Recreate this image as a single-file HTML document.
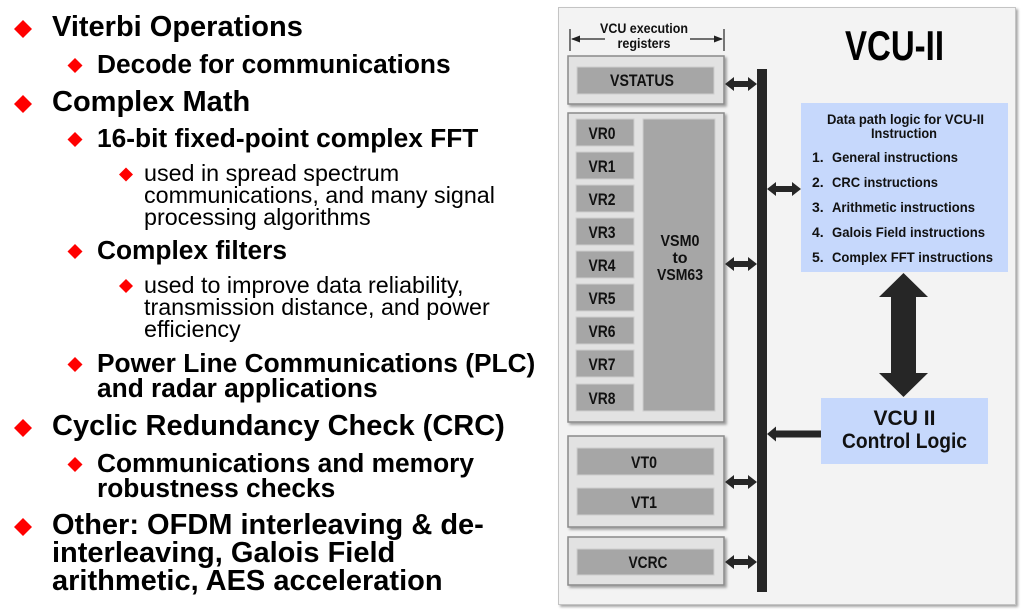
<!DOCTYPE html>
<html><head><meta charset="utf-8"><style>
html,body{margin:0;padding:0;background:#fff;}
svg{display:block;}
</style></head><body>
<svg width="1024" height="616" viewBox="0 0 1024 616" xmlns="http://www.w3.org/2000/svg" font-family="Liberation Sans, Arial, sans-serif">
<defs>
<filter id="sh" x="-10%" y="-10%" width="130%" height="130%">
<feDropShadow dx="2" dy="2" stdDeviation="1.2" flood-color="#000" flood-opacity="0.35"/>
</filter>
</defs>
<rect width="1024" height="616" fill="#fff"/>

<!-- Left bullets -->
<g fill="#ff0000">
<polygon points="23,20 32,29 23,38 14,29"/>
<polygon points="23,95 32,104 23,113 14,104"/>
<polygon points="23,419 32,428 23,437 14,428"/>
<polygon points="23,518 32,527 23,536 14,527"/>
<polygon points="75,58 82.5,65.5 75,73 67.5,65.5"/>
<polygon points="75,132 82.5,139.5 75,147 67.5,139.5"/>
<polygon points="75,244 82.5,251.5 75,259 67.5,251.5"/>
<polygon points="75,357 82.5,364.5 75,372 67.5,364.5"/>
<polygon points="75,457 82.5,464.5 75,472 67.5,464.5"/>
<polygon points="126,167.5 133,174.5 126,181.5 119,174.5"/>
<polygon points="126,279 133,286 126,293 119,286"/>
</g>
<g fill="#000" font-weight="bold" font-size="29">
<text x="52" y="36">Viterbi Operations</text>
<text x="52" y="111">Complex Math</text>
<text x="52" y="435">Cyclic Redundancy Check (CRC)</text>
<text x="52" y="534">Other: OFDM interleaving &amp; de-</text>
<text x="52" y="562">interleaving, Galois Field</text>
<text x="52" y="590">arithmetic, AES acceleration</text>
</g>
<g fill="#000" font-weight="bold" font-size="26.3">
<text x="97" y="73">Decode for communications</text>
<text x="97" y="147">16-bit fixed-point complex FFT</text>
<text x="97" y="259">Complex filters</text>
<text x="97" y="372">Power Line Communications (PLC)</text>
<text x="97" y="397">and radar applications</text>
<text x="97" y="472">Communications and memory</text>
<text x="97" y="497">robustness checks</text>
</g>
<g fill="#000" font-size="23.3">
<text x="144" y="181">used in spread spectrum</text>
<text x="144" y="203">communications, and many signal</text>
<text x="144" y="225">processing algorithms</text>
<text x="144" y="293">used to improve data reliability,</text>
<text x="144" y="315">transmission distance, and power</text>
<text x="144" y="337">efficiency</text>
</g>

<!-- Right panel -->
<rect x="558.5" y="7.5" width="457" height="597" fill="#f3f3f3" stroke="#c4c4c4" stroke-width="1" filter="url(#sh)"/>

<!-- dimension arrows -->
<g stroke="#222" stroke-width="1.2" fill="none">
<line x1="570" y1="29" x2="570" y2="51"/>
<line x1="724" y1="29" x2="724" y2="51"/>
<line x1="572" y1="39" x2="605" y2="39"/>
<line x1="690" y1="39" x2="722" y2="39"/>
</g>
<g fill="#222">
<polygon points="571,39 580,35.5 580,42.5"/>
<polygon points="723,39 714,35.5 714,42.5"/>
</g>
<g font-weight="bold" font-size="14" fill="#111" text-anchor="middle">
<text x="644" y="33" textLength="88" lengthAdjust="spacingAndGlyphs">VCU execution</text>
<text x="644" y="48" textLength="53" lengthAdjust="spacingAndGlyphs">registers</text>
</g>

<!-- Title -->
<text x="894.5" y="60" font-weight="bold" font-size="42" fill="#000" text-anchor="middle" textLength="99" lengthAdjust="spacingAndGlyphs">VCU-II</text>

<!-- register group boxes -->
<g fill="#e2e2e2" stroke="#8a8a8a" stroke-width="1.5" filter="url(#sh)">
<rect x="568" y="56" width="156" height="48"/>
<rect x="568" y="113" width="156" height="309"/>
<rect x="568" y="436" width="156" height="91"/>
<rect x="568" y="537" width="156" height="48"/>
</g>
<g fill="#a6a6a6" stroke="#cfcfcf" stroke-width="1">
<rect x="577" y="67" width="137" height="27"/>
<rect x="576" y="119" width="58" height="27"/>
<rect x="576" y="152" width="58" height="27"/>
<rect x="576" y="185" width="58" height="27"/>
<rect x="576" y="218" width="58" height="27"/>
<rect x="576" y="251" width="58" height="27"/>
<rect x="576" y="284" width="58" height="27"/>
<rect x="576" y="317" width="58" height="27"/>
<rect x="576" y="350" width="58" height="27"/>
<rect x="576" y="384" width="58" height="27"/>
<rect x="643" y="119" width="72" height="292"/>
<rect x="577" y="448" width="137" height="27"/>
<rect x="577" y="488" width="137" height="27"/>
<rect x="577" y="549" width="137" height="26"/>
</g>
<g font-weight="bold" font-size="17" fill="#111" text-anchor="middle">
<text x="642" y="86" textLength="64" lengthAdjust="spacingAndGlyphs">VSTATUS</text>
<text x="602" y="139" textLength="27" lengthAdjust="spacingAndGlyphs">VR0</text>
<text x="602" y="172" textLength="27" lengthAdjust="spacingAndGlyphs">VR1</text>
<text x="602" y="205" textLength="27" lengthAdjust="spacingAndGlyphs">VR2</text>
<text x="602" y="238" textLength="27" lengthAdjust="spacingAndGlyphs">VR3</text>
<text x="602" y="271" textLength="27" lengthAdjust="spacingAndGlyphs">VR4</text>
<text x="602" y="304" textLength="27" lengthAdjust="spacingAndGlyphs">VR5</text>
<text x="602" y="337" textLength="27" lengthAdjust="spacingAndGlyphs">VR6</text>
<text x="602" y="370" textLength="27" lengthAdjust="spacingAndGlyphs">VR7</text>
<text x="602" y="404" textLength="27" lengthAdjust="spacingAndGlyphs">VR8</text>
<text x="644" y="468" textLength="26" lengthAdjust="spacingAndGlyphs">VT0</text>
<text x="644" y="508" textLength="26" lengthAdjust="spacingAndGlyphs">VT1</text>
<text x="648" y="568" textLength="39" lengthAdjust="spacingAndGlyphs">VCRC</text>
</g>
<g font-weight="bold" font-size="16" fill="#111" text-anchor="middle">
<text x="680" y="246" textLength="39" lengthAdjust="spacingAndGlyphs">VSM0</text>
<text x="680" y="263">to</text>
<text x="680" y="280" textLength="46" lengthAdjust="spacingAndGlyphs">VSM63</text>
</g>

<!-- bus -->
<rect x="757" y="69" width="10" height="523" fill="#262626"/>

<!-- arrows -->
<g fill="#262626">
<polygon points="725,84 734,77 734,81 748,81 748,77 757,84 748,91 748,87 734,87 734,91"/>
<polygon points="725,264 734,257 734,261 748,261 748,257 757,264 748,271 748,267 734,267 734,271"/>
<polygon points="725,482 734,475 734,479 748,479 748,475 757,482 748,489 748,485 734,485 734,489"/>
<polygon points="725,562 734,555 734,559 748,559 748,555 757,562 748,569 748,565 734,565 734,569"/>
<polygon points="767,189 776,182 776,186 792,186 792,182 801,189 792,196 792,192 776,192 776,196"/>
<polygon points="767,434 776,426.5 776,430.5 821,430.5 821,437.5 776,437.5 776,441.5"/>
<polygon points="903.5,273 928,297 916,297 916,373 928,373 903.5,397 879,373 891,373 891,297 879,297"/>
</g>

<!-- blue boxes -->
<rect x="801" y="103" width="207" height="169" fill="#c6d8fc"/>
<rect x="821" y="398" width="167" height="66" fill="#c6d8fc"/>

<g font-weight="bold" font-size="14" fill="#111">
<text x="905.5" y="124" text-anchor="middle" textLength="157" lengthAdjust="spacingAndGlyphs">Data path logic for VCU-II</text>
<text x="904" y="138" text-anchor="middle" textLength="66" lengthAdjust="spacingAndGlyphs">Instruction</text>
<text x="812" y="162">1.</text>
<text x="812" y="187">2.</text>
<text x="812" y="212">3.</text>
<text x="812" y="237">4.</text>
<text x="812" y="262">5.</text>
<text x="832" y="162" textLength="126" lengthAdjust="spacingAndGlyphs">General instructions</text>
<text x="832" y="187" textLength="106" lengthAdjust="spacingAndGlyphs">CRC instructions</text>
<text x="832" y="212" textLength="143" lengthAdjust="spacingAndGlyphs">Arithmetic instructions</text>
<text x="832" y="237" textLength="153" lengthAdjust="spacingAndGlyphs">Galois Field instructions</text>
<text x="832" y="262" textLength="161" lengthAdjust="spacingAndGlyphs">Complex FFT instructions</text>
</g>
<g font-weight="bold" font-size="21" fill="#111" text-anchor="middle">
<text x="904.5" y="425" textLength="62" lengthAdjust="spacingAndGlyphs">VCU II</text>
<text x="904.5" y="448" textLength="125" lengthAdjust="spacingAndGlyphs">Control Logic</text>
</g>
</svg>
</body></html>
